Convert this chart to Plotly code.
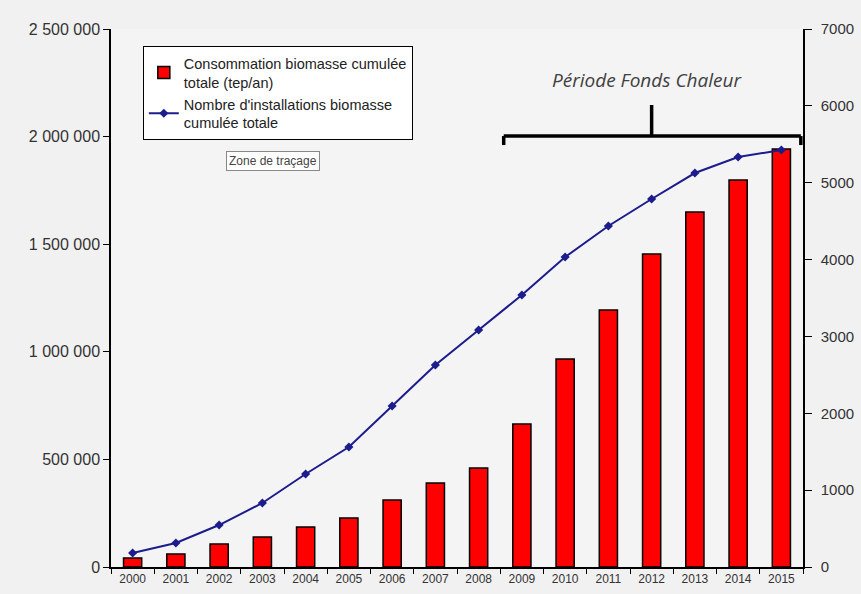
import plotly.graph_objects as go

years = [str(y) for y in range(2000, 2016)]
consommation = [42000, 60000, 107000, 139000, 186000, 228000, 311000, 390000,
                460000, 665000, 967000, 1194000, 1455000, 1650000, 1798000, 1942000]
installations = [182, 312, 546, 833, 1210, 1561, 2095, 2628, 3083, 3539,
                 4033, 4437, 4788, 5126, 5334, 5425]
left_ticks = [0, 500000, 1000000, 1500000, 2000000, 2500000]
left_labels = ["0", "500 000", "1 000 000", "1 500 000", "2 000 000", "2 500 000"]
right_ticks = [0, 1000, 2000, 3000, 4000, 5000, 6000, 7000]

fig = go.Figure()
fig.add_trace(go.Bar(
    x=years, y=consommation,
    name="Consommation biomasse cumulée<br>totale (tep/an)",
    marker=dict(color="#ff0000", line=dict(color="black", width=1.5)),
    yaxis="y",
))
fig.add_trace(go.Scatter(
    x=years, y=installations,
    name="Nombre d'installations biomasse<br>cumulée totale",
    mode="lines+markers",
    line=dict(color="#1c1c8c", width=2),
    marker=dict(symbol="diamond", size=7, color="#1c1c8c"),
    yaxis="y2",
))

fig.update_layout(
    width=861, height=594,
    margin=dict(l=111, r=58, t=29, b=27, autoexpand=False),
    paper_bgcolor="#f1f1f1",
    plot_bgcolor="#f4f4f4",
    bargap=0.58,
    showlegend=True,
    legend=dict(x=0.046, y=0.968, xanchor="left", yanchor="top",
                bgcolor="white", bordercolor="black", borderwidth=1,
                font=dict(family="Liberation Sans, Arial", size=14.5, color="#222"),
                tracegroupgap=0),
    xaxis=dict(type="category", showline=True, linecolor="black", linewidth=1.5,
               ticks="outside", tickson="boundaries", ticklen=5, tickcolor="black",
               tickfont=dict(family="Liberation Sans, Arial", size=12, color="#333333"),
               showgrid=False, range=[-0.5, 15.5], automargin=False),
    yaxis=dict(range=[0, 2500000], tickvals=left_ticks, ticktext=left_labels,
               showline=True, linecolor="black", linewidth=1.5, ticks="outside",
               ticklen=6, tickcolor="black", showgrid=False, zeroline=False,
               automargin=False,
               tickfont=dict(family="Liberation Sans, Arial", size=16, color="#333333")),
    yaxis2=dict(range=[0, 7000], tickvals=right_ticks, overlaying="y", side="right",
                showline=True, linecolor="black", linewidth=1.5, ticks="outside",
                ticklen=7, tickcolor="black", showgrid=False, zeroline=False,
                ticklabelstandoff=6, automargin=False,
                tickfont=dict(family="Liberation Sans, Arial", size=15, color="#333333")),
)

# Bracket "Période Fonds Chaleur"
bracket = dict(color="black", width=3.5)
fig.add_shape(type="line", xref="x", yref="y2", x0=8.58, x1=15.45, y0=5607, y1=5607, line=bracket)
fig.add_shape(type="line", xref="x", yref="y2", x0=8.58, x1=8.58, y0=5607, y1=5490, line=bracket)
fig.add_shape(type="line", xref="x", yref="y2", x0=15.45, x1=15.45, y0=5607, y1=5490, line=bracket)
fig.add_shape(type="line", xref="x", yref="y2", x0=12, x1=12, y0=5607, y1=6011, line=bracket)

fig.add_annotation(x=11.9, y=6330, xref="x", yref="y2", text="<i>Période Fonds Chaleur</i>",
                   showarrow=False, xanchor="center", yanchor="middle",
                   font=dict(family="Open Sans", size=19, color="#404040"))

fig.add_annotation(x=0.234, y=0.755, xref="paper", yref="paper", text="Zone de traçage",
                   showarrow=False, xanchor="center", yanchor="middle",
                   bgcolor="white", bordercolor="#888888", borderwidth=1,
                   borderpad=2, font=dict(family="Liberation Sans, Arial", size=12, color="#444"))

fig.write_html("out.html")
